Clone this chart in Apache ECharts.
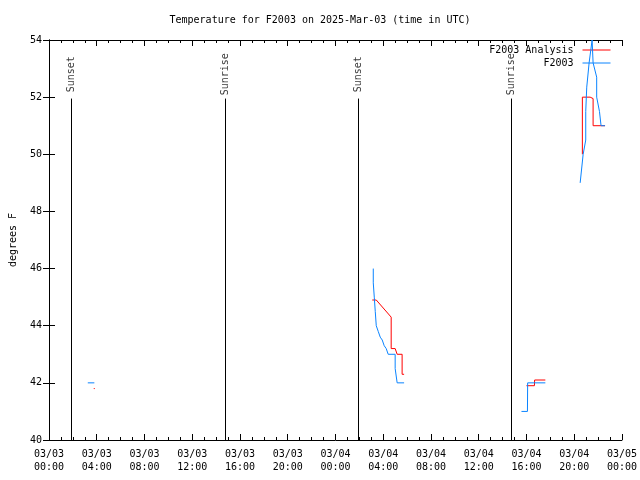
<!DOCTYPE html>
<html>
<head>
<meta charset="utf-8">
<script src="https://cdn.jsdelivr.net/npm/echarts@6/dist/echarts.min.js"></script>
<style>html,body{margin:0;padding:0;background:#fff;}#c{width:640px;height:480px;}</style>
</head>
<body>
<div id="c"></div>
<script>
// ---- data ----
const titleText = 'Temperature for F2003 on 2025-Mar-03 (time in UTC)';
const xTickLabels = ['03/03\n00:00','03/03\n04:00','03/03\n08:00','03/03\n12:00','03/03\n16:00','03/03\n20:00',
  '03/04\n00:00','03/04\n04:00','03/04\n08:00','03/04\n12:00','03/04\n16:00','03/04\n20:00','03/05\n00:00'];
const yTicks = [40, 42, 44, 46, 48, 50, 52, 54];
const sunNames = ['Sunset', 'Sunrise', 'Sunset', 'Sunrise'];
const sunTimes = ['03/03 01:53', '03/03 14:46', '03/04 01:54', '03/04 14:45'];

// F2003 observations (null = gap)
const obsTimes = ['03/03 03:15','03/03 03:48', null,
  '03/04 03:10','03/04 03:10','03/04 03:15','03/04 03:20','03/04 03:25','03/04 03:35','03/04 03:45','03/04 03:55',
  '03/04 04:05','03/04 04:15','03/04 04:25','03/04 05:00','03/04 05:00','03/04 05:10','03/04 05:45', null,
  '03/04 15:35','03/04 16:05','03/04 16:06','03/04 17:35', null,
  '03/04 20:30','03/04 20:45','03/04 20:58','03/04 20:58','03/04 21:03','03/04 21:15','03/04 21:30','03/04 21:35',
  '03/04 21:53','03/04 21:53','03/04 22:07','03/04 22:15','03/04 22:35'];
const obsTemps = [42.0, 42.0, null,
  46.0, 45.5, 45.0, 44.5, 44.0, 43.8, 43.6, 43.5,
  43.3, 43.2, 43.0, 43.0, 42.5, 42.0, 42.0, null,
  41.0, 41.0, 42.0, 42.0, null,
  49.0, 50.0, 50.5, 51.5, 52.35, 53.2, 54.0, 53.2,
  52.7, 52.0, 51.5, 51.0, 51.0];

// F2003 Analysis
const anaTimes = ['03/03 03:45','03/03 03:50', null,
  '03/04 03:05','03/04 03:25','03/04 04:40','03/04 04:40','03/04 05:00','03/04 05:10','03/04 05:35','03/04 05:35','03/04 05:45', null,
  '03/04 16:00','03/04 16:40','03/04 16:41','03/04 17:35', null,
  '03/04 20:41','03/04 20:41','03/04 21:20','03/04 21:35','03/04 21:35','03/04 22:35'];
const anaTemps = [41.8, 41.8, null,
  44.9, 44.9, 44.3, 43.2, 43.2, 43.0, 43.0, 42.3, 42.3, null,
  41.9, 41.9, 42.1, 42.1, null,
  50.0, 52.0, 52.0, 51.95, 51.0, 51.0];

// ---- helpers ----
function toHours(s) {
  const m = s.match(/(\d+)\/(\d+) (\d+):(\d+)/);
  return (parseInt(m[2], 10) - 3) * 24 + parseInt(m[3], 10) + parseInt(m[4], 10) / 60;
}
function segments(times, temps) {
  const segs = []; let cur = [];
  times.forEach((t, i) => {
    if (t === null) { if (cur.length) segs.push(cur); cur = []; }
    else cur.push([toHours(t), temps[i]]);
  });
  if (cur.length) segs.push(cur);
  return segs;
}
const FONT = 'DejaVu Sans Mono';
const RED = '#ff0000', BLUE = '#0a84ff';

const series = [];
segments(anaTimes, anaTemps).forEach(seg => series.push({
  name: 'F2003 Analysis', type: 'line', data: seg, showSymbol: false, symbol: 'none', color: RED,
  lineStyle: { color: RED, width: 1 }, itemStyle: { color: RED }, z: 3
}));
segments(obsTimes, obsTemps).forEach(seg => series.push({
  name: 'F2003', type: 'line', data: seg, showSymbol: false, symbol: 'none', color: BLUE,
  lineStyle: { color: BLUE, width: 1 }, itemStyle: { color: BLUE }, z: 4
}));
series.push({
  name: 'sun', type: 'scatter', symbolSize: 1, itemStyle: { color: 'rgba(0,0,0,0)' },
  data: sunTimes.map(t => [toHours(t), 52.8]),
  label: { show: true, position: 'inside', rotate: 90, color: '#000', fontFamily: FONT, fontSize: 10,
    formatter: p => sunNames[p.dataIndex] },
  markLine: {
    silent: true, symbol: ['none', 'none'], animation: false,
    lineStyle: { color: '#000', width: 1, type: 'solid' }, label: { show: false },
    data: sunTimes.map(t => [{ coord: [toHours(t), 40] }, { coord: [toHours(t), 51.95] }])
  },
  z: 2
});

const axisCommon = {
  axisLine: { show: true, lineStyle: { color: '#000', width: 1 } },
  splitLine: { show: false }
};

const chart = echarts.init(document.getElementById('c'), null, { renderer: 'canvas' });
chart.setOption({
  animation: false,
  backgroundColor: '#fff',
  title: { text: titleText, left: 'center', top: 10,
    textStyle: { fontFamily: FONT, fontSize: 10, fontWeight: 'normal', color: '#000' } },
  legend: {
    data: [
      { name: 'F2003 Analysis', lineStyle: { color: RED, width: 1, opacity: 1 }, itemStyle: { color: RED, opacity: 0 } },
      { name: 'F2003', lineStyle: { color: BLUE, width: 1, opacity: 1 }, itemStyle: { color: BLUE, opacity: 0 } }
    ],
    orient: 'vertical', right: 24, top: 40, align: 'right',
    itemWidth: 28, itemHeight: 10, itemGap: 3,
    textStyle: { fontFamily: FONT, fontSize: 10, color: '#000', lineHeight: 10, padding: [0, 4, 0, 0] }
  },
  grid: { left: 44, right: 18, top: 40, bottom: 40, containLabel: false },
  xAxis: [
    Object.assign({}, axisCommon, {
      type: 'value', min: 0, max: 48, interval: 4, position: 'bottom',
      axisTick: { show: true, inside: true, length: 6, lineStyle: { color: '#000' } },
      minorTick: { show: true, splitNumber: 4, length: 3, lineStyle: { color: '#000' } },
      axisLabel: { show: true, margin: 8, color: '#000', fontFamily: FONT, fontSize: 10, lineHeight: 13,
        formatter: v => xTickLabels[Math.round(v / 4)] || '' }
    }),
    Object.assign({}, axisCommon, {
      type: 'value', min: 0, max: 48, interval: 4, position: 'top',
      axisTick: { show: true, inside: true, length: 6, lineStyle: { color: '#000' } },
      minorTick: { show: true, splitNumber: 4, length: 3, lineStyle: { color: '#000' } },
      axisLabel: { show: false }
    })
  ],
  yAxis: [
    Object.assign({}, axisCommon, {
      type: 'value', min: yTicks[0], max: yTicks[yTicks.length - 1], interval: 2, position: 'left',
      name: 'degrees F', nameLocation: 'middle', nameGap: 31,
      nameTextStyle: { fontFamily: FONT, fontSize: 10, color: '#000' },
      axisTick: { show: true, inside: true, length: 6, lineStyle: { color: '#000' } },
      axisLabel: { show: true, margin: 7, color: '#000', fontFamily: FONT, fontSize: 10 }
    }),
    Object.assign({}, axisCommon, {
      type: 'value', min: yTicks[0], max: yTicks[yTicks.length - 1], interval: 2, position: 'right',
      axisTick: { show: true, inside: true, length: 6, lineStyle: { color: '#000' } },
      axisLabel: { show: false }
    })
  ],
  series: series
});
</script>
</body>
</html>
